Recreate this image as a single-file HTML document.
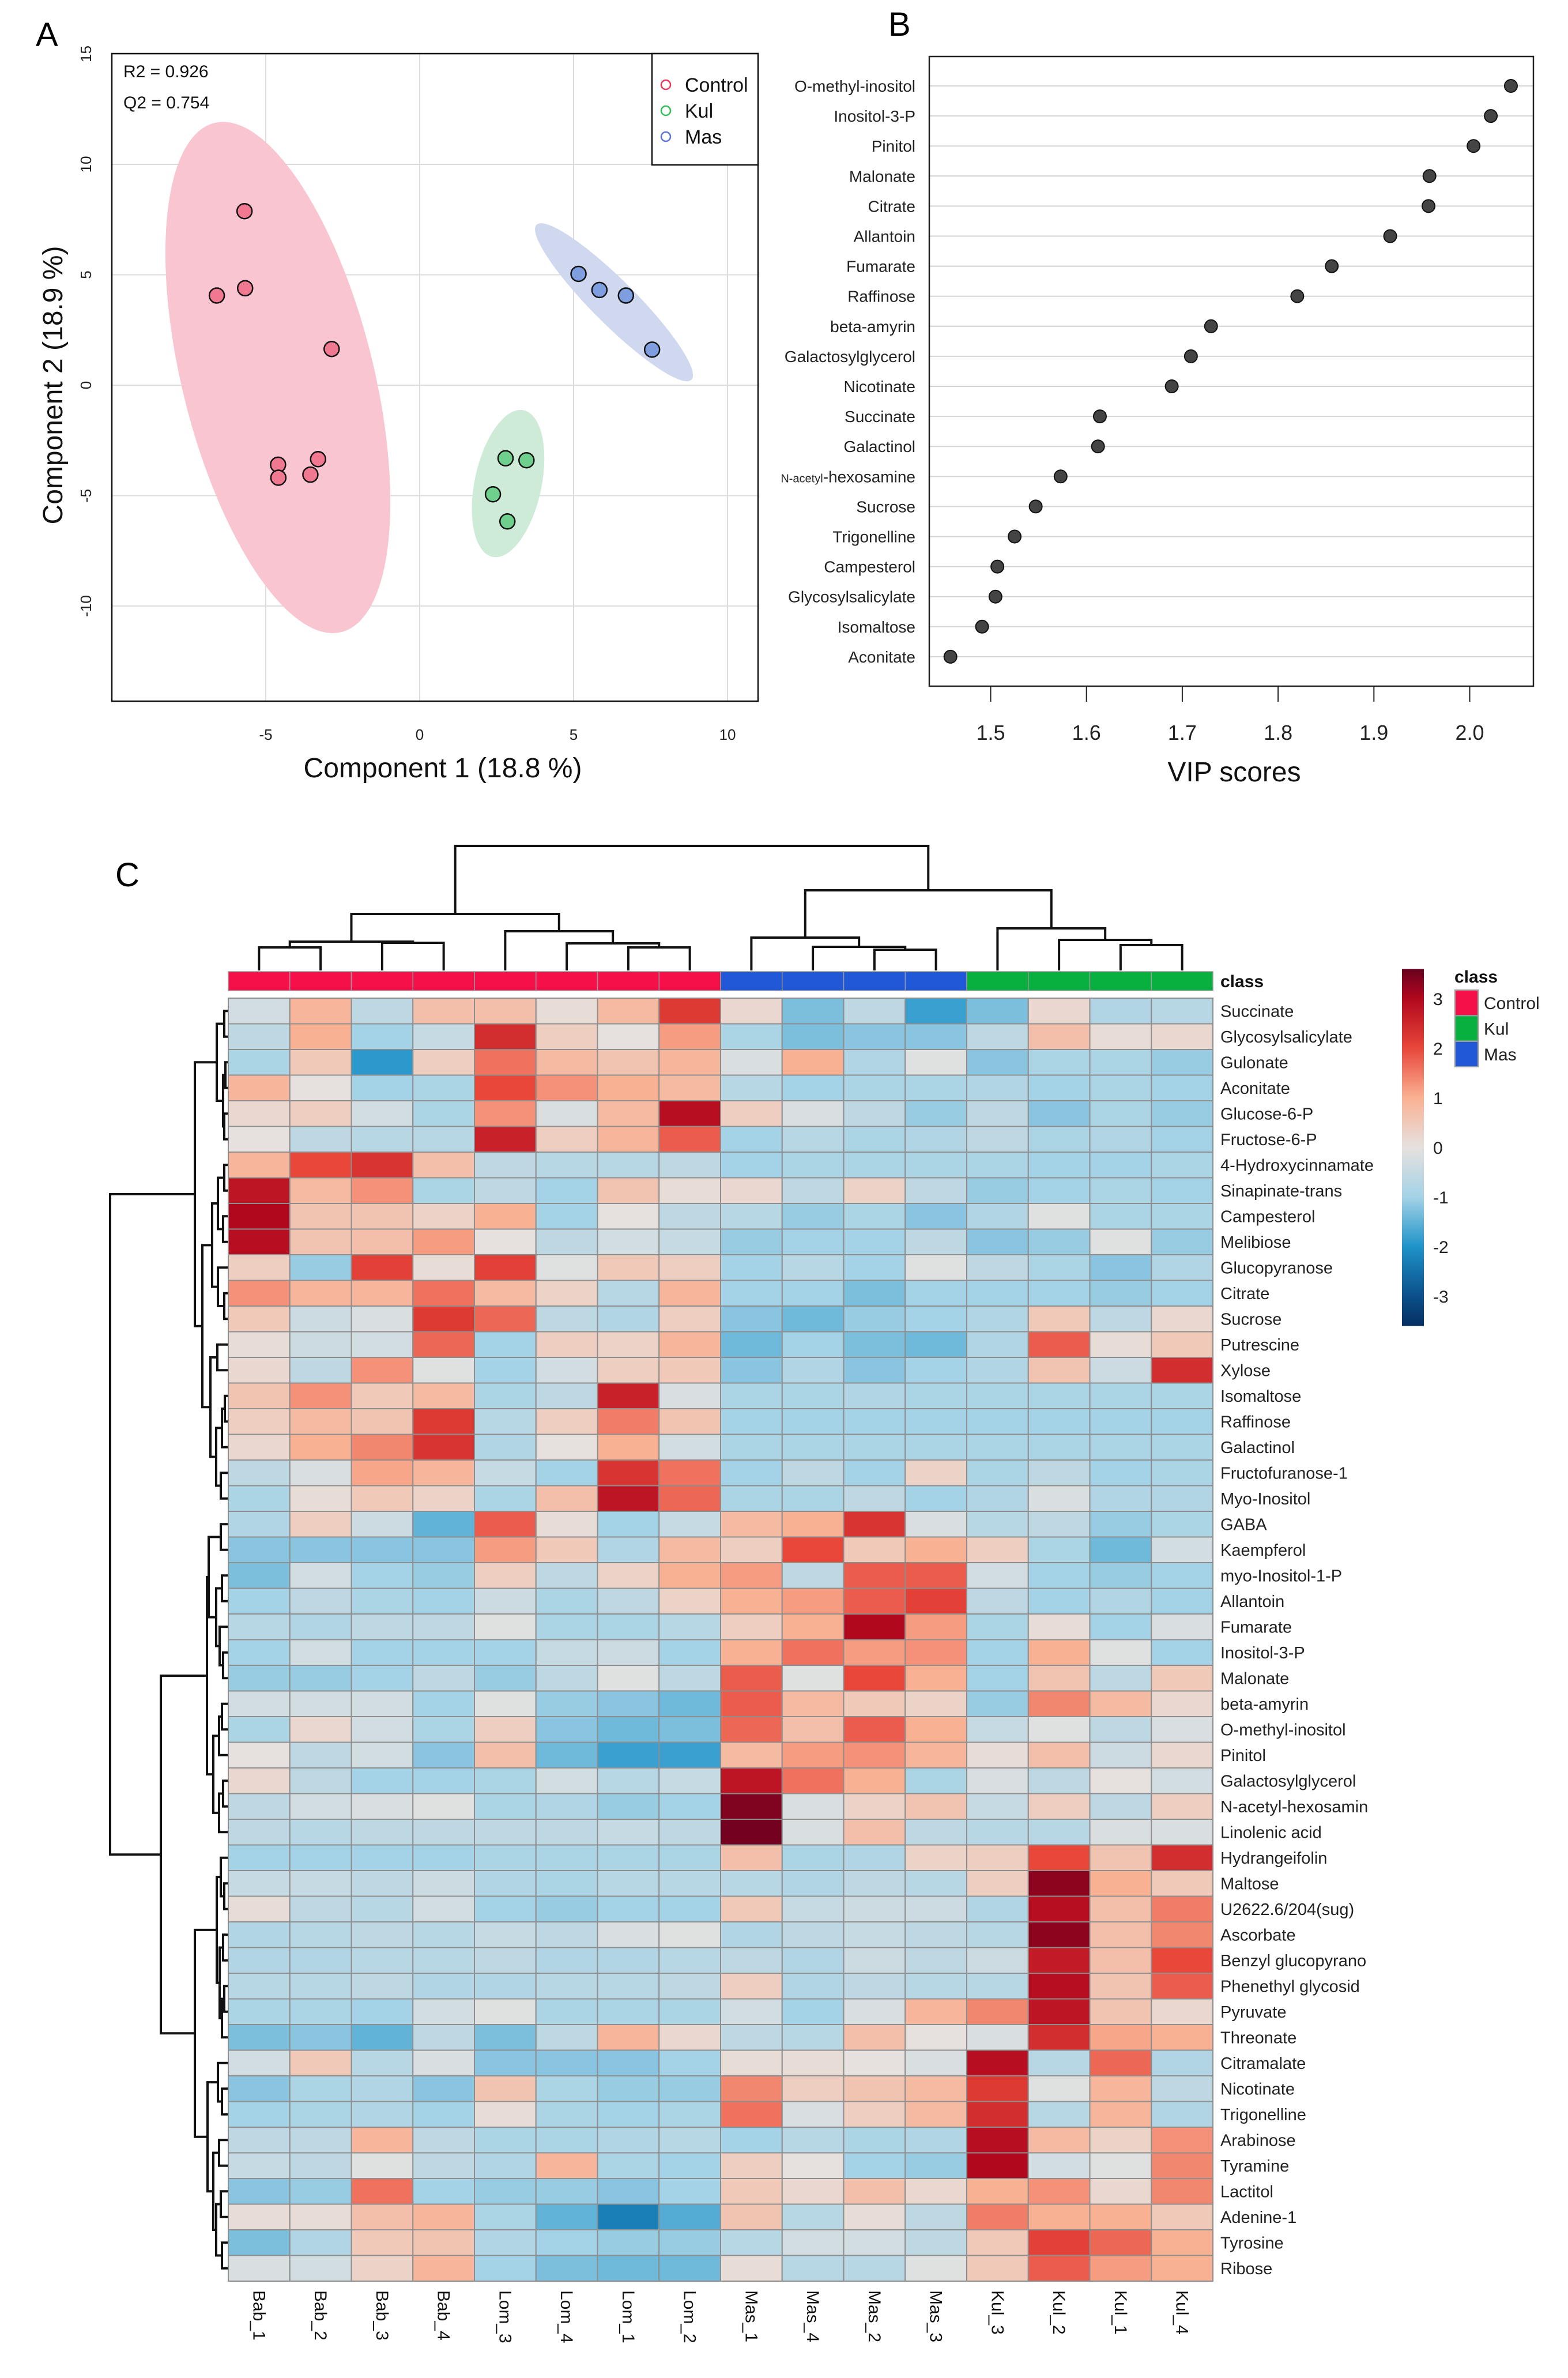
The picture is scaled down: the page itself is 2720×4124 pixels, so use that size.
<!DOCTYPE html>
<html><head><meta charset="utf-8">
<style>
html,body{margin:0;padding:0;background:#fff;}
svg{display:block;font-family:"Liberation Sans",sans-serif;}
</style></head>
<body>
<svg id="fig" xmlns="http://www.w3.org/2000/svg" width="2720" height="4124" viewBox="0 0 2720 4124">
<rect x="0" y="0" width="2720" height="4124" fill="#fff"/>
<g id="panelA"></g>
<g id="panelB"></g>
<g id="panelC"></g>
</svg>
<script>
// ---------- Panel A data ----------
const controlX = [-5.69,-6.59,-5.67,-2.86,-4.60,-4.59,-3.55,-3.30];
const controlY = [7.88,4.06,4.39,1.64,-3.60,-4.19,-4.05,-3.35];
const kulX = [2.79,3.47,2.38,2.85];
const kulY = [-3.31,-3.40,-4.94,-6.17];
const masX = [5.16,5.84,6.70,7.55];
const masY = [5.04,4.31,4.06,1.61];
const pcaXTicks = [-5,0,5,10];
const pcaYTicks = [15,10,5,0,-5,-10];
const groupNames = ["Control","Kul","Mas"];
// ---------- Panel B data ----------
const vipNames = ["O-methyl-inositol","Inositol-3-P","Pinitol","Malonate","Citrate","Allantoin","Fumarate","Raffinose","beta-amyrin","Galactosylglycerol","Nicotinate","Succinate","Galactinol","N-acetyl-hexosamine","Sucrose","Trigonelline","Campesterol","Glycosylsalicylate","Isomaltose","Aconitate"];
const vipScores = [2.043,2.022,2.004,1.958,1.957,1.917,1.856,1.820,1.730,1.709,1.689,1.614,1.612,1.573,1.547,1.525,1.507,1.505,1.491,1.458];
const vipTicks = [1.5,1.6,1.7,1.8,1.9,2.0];
// ---------- Panel C data ----------
const heatCols = ["Bab_1","Bab_2","Bab_3","Bab_4","Lom_3","Lom_4","Lom_1","Lom_2","Mas_1","Mas_4","Mas_2","Mas_3","Kul_3","Kul_2","Kul_1","Kul_4"];
const colClass = [0,0,0,0,0,0,0,0,2,2,2,2,1,1,1,1];
const heatRows = ["Succinate","Glycosylsalicylate","Gulonate","Aconitate","Glucose-6-P","Fructose-6-P","4-Hydroxycinnamate","Sinapinate-trans","Campesterol","Melibiose","Glucopyranose","Citrate","Sucrose","Putrescine","Xylose","Isomaltose","Raffinose","Galactinol","Fructofuranose-1","Myo-Inositol","GABA","Kaempferol","myo-Inositol-1-P","Allantoin","Fumarate","Inositol-3-P","Malonate","beta-amyrin","O-methyl-inositol","Pinitol","Galactosylglycerol","N-acetyl-hexosamin","Linolenic acid","Hydrangeifolin","Maltose","U2622.6/204(sug)","Ascorbate","Benzyl glucopyrano","Phenethyl glycosid","Pyruvate","Threonate","Citramalate","Nicotinate","Trigonelline","Arabinose","Tyramine","Lactitol","Adenine-1","Tyrosine","Ribose"];
const heatValues = [
[-0.3,0.9,-0.6,0.7,0.7,0.1,0.8,2.2,0.2,-1.3,-0.6,-1.8,-1.3,0.2,-0.8,-0.7],
[-0.6,1.0,-1.0,-0.5,2.4,0.4,0.0,1.2,-0.9,-1.3,-1.2,-1.2,-0.6,0.7,0.1,0.2],
[-0.9,0.5,-1.9,0.4,1.6,0.8,0.6,0.9,-0.2,1.0,-0.8,-0.1,-1.2,-0.9,-0.9,-1.1],
[0.9,0.0,-1.0,-0.9,2.0,1.3,1.0,0.8,-0.7,-1.0,-0.9,-0.9,-0.8,-1.0,-0.9,-1.0],
[0.2,0.4,-0.3,-0.9,1.3,-0.2,0.8,2.9,0.4,-0.2,-0.6,-1.1,-0.6,-1.2,-0.9,-1.1],
[0.0,-0.6,-0.7,-0.7,2.6,0.4,0.9,1.8,-1.0,-0.7,-0.9,-0.8,-0.6,-0.9,-0.8,-1.0],
[0.9,2.0,2.3,0.7,-0.6,-0.7,-0.7,-0.6,-1.0,-0.9,-0.9,-0.9,-0.9,-1.0,-1.0,-0.9],
[2.8,0.8,1.3,-0.9,-0.6,-1.0,0.6,0.1,0.2,-0.6,0.3,-0.6,-1.1,-1.0,-0.9,-1.0],
[3.0,0.6,0.6,0.3,1.0,-1.0,0.0,-0.6,-0.7,-1.1,-0.9,-1.2,-0.8,-0.1,-0.9,-0.9],
[2.9,0.6,0.7,1.2,0.0,-0.6,-0.3,-0.5,-1.1,-1.0,-1.0,-0.6,-1.2,-1.1,-0.1,-1.1],
[0.4,-1.1,2.1,0.1,2.1,-0.1,0.5,0.4,-1.0,-0.7,-1.0,-0.1,-0.6,-0.9,-1.2,-0.8],
[1.3,0.9,0.9,1.6,0.8,0.3,-0.7,0.9,-1.0,-1.0,-1.3,-1.0,-1.0,-1.0,-1.1,-1.0],
[0.5,-0.4,-0.2,2.2,1.7,-0.6,-0.8,0.4,-1.2,-1.4,-1.1,-1.0,-0.8,0.5,-0.6,0.2],
[0.1,-0.4,-0.3,1.7,-1.0,0.4,0.3,0.9,-1.4,-1.0,-1.3,-1.4,-0.8,1.8,0.1,0.5],
[0.2,-0.6,1.3,-0.1,-1.0,-0.3,0.4,0.5,-1.2,-0.8,-1.2,-1.0,-0.8,0.6,-0.4,2.4],
[0.6,1.3,0.5,0.8,-0.9,-0.6,2.6,-0.2,-0.9,-0.9,-0.8,-0.9,-0.9,-0.9,-0.9,-0.9],
[0.4,0.8,0.6,2.2,-0.7,0.4,1.5,0.6,-1.0,-1.0,-1.0,-1.0,-1.0,-1.0,-1.0,-1.0],
[0.2,1.0,1.4,2.3,-0.8,0.0,1.0,-0.3,-0.9,-0.9,-0.9,-0.9,-0.9,-0.9,-0.9,-0.9],
[-0.6,-0.2,1.1,0.9,-0.5,-1.0,2.3,1.6,-1.0,-0.6,-1.0,0.3,-0.9,-0.6,-1.0,-0.9],
[-0.9,0.1,0.5,0.3,-0.9,0.7,2.8,1.7,-0.9,-0.9,-0.6,-1.0,-0.8,-0.2,-0.8,-0.8],
[-0.8,0.4,-0.4,-1.5,1.8,0.1,-1.0,-0.5,0.8,1.0,2.3,-0.2,-0.7,-0.6,-1.1,-0.9],
[-1.2,-1.2,-1.2,-1.2,1.2,0.5,-0.8,0.8,0.4,2.0,0.5,1.0,0.4,-0.9,-1.4,-0.3],
[-1.3,-0.3,-1.0,-1.1,0.4,-0.6,0.3,1.0,1.2,-0.6,1.8,1.8,-0.3,-1.0,-1.1,-1.0],
[-1.0,-0.6,-0.9,-1.0,-0.4,-0.9,-0.6,0.3,1.0,1.2,1.8,2.1,-0.6,-1.0,-0.8,-1.0],
[-0.7,-0.8,-0.6,-0.6,-0.1,-0.9,-0.9,-0.7,0.4,1.0,3.0,1.2,-0.9,0.1,-1.0,-0.2],
[-1.0,-0.3,-1.0,-1.0,-1.0,-0.5,-0.4,-1.0,1.0,1.6,1.2,1.3,-1.0,1.0,-0.1,-1.0],
[-1.1,-1.1,-1.0,-0.6,-1.1,-0.6,-0.1,-0.6,1.8,-0.1,2.0,1.0,-1.0,0.6,-0.6,0.5],
[-0.3,-0.3,-0.3,-1.0,-0.1,-1.1,-1.2,-1.4,1.8,0.8,0.5,0.3,-1.1,1.4,0.8,0.2],
[-0.9,0.2,-0.3,-0.9,0.4,-1.2,-1.4,-1.3,1.7,0.7,1.8,1.0,-0.5,-0.1,-0.6,-0.2],
[0.0,-0.6,-0.3,-1.2,0.7,-1.4,-1.8,-1.8,0.8,1.2,1.3,0.9,0.1,0.7,-0.4,0.2],
[0.2,-0.6,-1.0,-1.0,-0.9,-0.3,-0.7,-0.5,2.8,1.6,1.0,-0.9,-0.2,-0.6,0.0,-0.3],
[-0.6,-0.3,-0.2,-0.1,-0.9,-0.8,-1.1,-1.0,3.4,-0.2,0.3,0.6,-0.5,0.4,-0.6,0.4],
[-0.6,-0.7,-0.6,-0.6,-0.6,-0.6,-0.5,-0.6,3.5,-0.2,0.7,-0.6,-0.7,-0.7,-0.2,-0.2],
[-1.0,-1.0,-1.0,-1.0,-0.9,-0.9,-0.9,-0.9,0.7,-0.9,-0.8,0.3,0.4,2.0,0.6,2.4],
[-0.5,-0.5,-0.6,-0.4,-0.8,-0.9,-0.7,-0.7,-0.7,-0.8,-0.6,-0.7,0.4,3.3,1.0,0.5],
[0.1,-0.6,-0.7,-0.3,-1.0,-1.1,-1.0,-1.0,0.5,-0.5,-0.4,-0.4,-0.8,2.9,0.7,1.5],
[-0.8,-0.7,-0.6,-0.7,-0.5,-0.6,-0.2,-0.1,-0.8,-0.6,-0.5,-0.6,-0.7,3.3,0.7,1.4],
[-0.8,-0.8,-0.7,-0.7,-0.6,-0.8,-0.8,-0.7,-0.6,-0.8,-0.4,-0.6,-0.4,2.7,0.7,2.0],
[-0.7,-0.7,-0.6,-0.8,-0.8,-0.7,-0.7,-0.6,0.4,-0.8,-0.6,-0.7,-0.7,2.9,0.6,1.8],
[-0.9,-0.9,-1.0,-0.3,-0.1,-0.9,-0.9,-0.9,-0.3,-1.0,-0.2,0.9,1.4,2.8,0.6,0.2],
[-1.3,-1.2,-1.5,-0.6,-1.3,-0.6,0.9,0.2,-0.6,-0.7,0.7,0.0,-0.2,2.4,1.1,1.0],
[-0.3,0.5,-0.7,-0.2,-1.2,-1.2,-1.2,-1.0,0.1,0.1,0.0,-0.2,2.9,-0.7,1.7,-0.8],
[-1.2,-0.9,-0.8,-1.2,0.6,-0.9,-1.1,-1.1,1.4,0.4,0.6,0.8,2.2,-0.1,0.9,-0.6],
[-1.0,-0.9,-0.8,-1.0,0.1,-0.9,-1.0,-0.9,1.6,-0.2,0.4,0.8,2.4,-0.7,0.9,-0.8],
[-0.6,-0.6,0.9,-0.6,-0.9,-0.9,-0.8,-0.7,-1.0,-0.7,-0.9,-0.8,2.9,0.8,0.3,1.3],
[-0.5,-0.6,-0.1,-0.6,-0.8,0.9,-0.9,-1.0,0.4,0.0,-1.0,-1.1,3.0,-0.3,-0.1,1.4],
[-1.2,-1.1,1.6,-1.0,-1.1,-1.1,-1.2,-1.0,0.5,0.2,0.7,0.2,1.0,1.3,0.2,1.4],
[0.1,0.1,0.7,0.9,-0.9,-1.5,-2.3,-1.6,0.6,-0.7,0.1,-0.6,1.5,1.0,1.0,0.5],
[-1.3,-0.8,0.5,0.6,-0.8,-1.0,-1.1,-1.1,-0.7,-0.3,-0.3,-0.6,0.5,2.1,1.7,1.0],
[-0.2,-0.3,0.3,0.9,-1.0,-1.3,-1.4,-1.4,0.1,-0.7,-0.7,-0.1,0.5,1.8,1.2,1.0]
];
const colorTicks = [3,2,1,0,-1,-2,-3];
// dendrogram merge trees: [height, left, right]; leaves are indices
const colTree = [216,[98,[50,[40,0,1],[48,2,3]],[68,4,[47,5,[40,6,7]]]],[139,[57,8,[41,9,[36,10,11]]],[73,12,[53,13,[44,14,15]]]]];
const rowTree = [204,
  [57,[19,[6,0,1],[8,[4,2,3],[6,4,5]]],
      [44,[27,[17,[6,6,7],[8,8,9]],[17,10,[6,11,12]]],[30,[18,13,14],[20,[10,[5,15,16],17],[12,18,19]]]]],
  [116,[36,[33,[12,20,21],[20,[10,22,23],[14,24,[8,25,26]]]],[25,[15,[10,27,28],29],[15,[8,30,31],32]]],
       [57,[19,[12,33,[6,34,35]],[14,[8,36,37],[10,[6,38,39],40]]],[35,[17,41,[10,42,43]],[25,[15,44,45],[20,[12,46,47],[10,48,49]]]]]]];
</script>
<script>
const NS="http://www.w3.org/2000/svg";
function mk(parent,tag,attrs,text){const e=document.createElementNS(NS,tag);for(const k in attrs)e.setAttribute(k,attrs[k]);if(text!==undefined)e.textContent=text;parent.appendChild(e);return e;}

// ================= Panel A =================
const A=document.getElementById('panelA');
const xA=v=>728+53.4*v, yA=v=>668-38.3*v;
const boxA={l:194,r:1315,t:93,b:1216};
let t=mk(A,'text',{x:62,y:80,'font-size':58,fill:'#000'},'A');

pcaXTicks.forEach(v=>{let l=mk(A,'line',{x1:xA(v),x2:xA(v),y1:boxA.t,y2:boxA.b,stroke:'#dcdcdc','stroke-width':2});
 
 let tx=mk(A,'text',{x:xA(v),y:1283,'font-size':26,'text-anchor':'middle',fill:'#222'},String(v));
 });
pcaYTicks.forEach(v=>{let l=mk(A,'line',{x1:boxA.l,x2:boxA.r,y1:yA(v),y2:yA(v),stroke:'#dcdcdc','stroke-width':2});
 
 let tx=mk(A,'text',{x:0,y:0,'font-size':26,'text-anchor':'middle',fill:'#222',transform:`translate(158,${yA(v)}) rotate(-90)`},String(v));
 });
const groups=[{x:controlX,y:controlY,fill:'#f9c5d0',pt:'#f07890',rx:166,ry:455,rot:-14,name:'control'},
 {x:kulX,y:kulY,fill:'#cdebd6',pt:'#6fcf8c',rx:58,ry:130,rot:12,name:'kul'},
 {x:masX,y:masY,fill:'#d0d8ef',pt:'#7e9ee0',rx:38,ry:190,rot:-45,name:'mas'}];
groups.forEach(g=>{const mx=g.x.reduce((a,b)=>a+b,0)/g.x.length, my=g.y.reduce((a,b)=>a+b,0)/g.y.length;
 let e=mk(A,'ellipse',{cx:0,cy:0,rx:g.rx,ry:g.ry,fill:g.fill,transform:`translate(${xA(mx)},${yA(my)}) rotate(${g.rot})`});
 });
groups.forEach(g=>{g.x.forEach((v,i)=>{let c=mk(A,'circle',{cx:xA(v),cy:yA(g.y[i]),r:13,fill:g.pt,stroke:'#111','stroke-width':2.5});
 });});
let bA=mk(A,'rect',{x:boxA.l,y:boxA.t,width:boxA.r-boxA.l,height:boxA.b-boxA.t,fill:'none',stroke:'#111','stroke-width':2.5});

t=mk(A,'text',{x:214,y:134,'font-size':30,fill:'#111'},'R2 = 0.926');
t=mk(A,'text',{x:214,y:188,'font-size':30,fill:'#111'},'Q2 = 0.754');
let lg=mk(A,'g',{});
let lr=mk(lg,'rect',{x:1131,y:93,width:184,height:193,fill:'#fff',stroke:'#111','stroke-width':2.5});

const legCol=['#e8375a','#30bf5a','#5b74d6'];
groupNames.forEach((n,i)=>{let c=mk(lg,'circle',{cx:1155,cy:147+i*45,r:8,fill:'none',stroke:legCol[i],'stroke-width':2.5});
 
 let tx=mk(lg,'text',{x:1188,y:159+i*45,'font-size':34,fill:'#111'},n);
 });
t=mk(A,'text',{x:768,y:1348,'font-size':48,'text-anchor':'middle',fill:'#111'},'Component 1 (18.8 %)');

t=mk(A,'text',{x:0,y:0,'font-size':48,'text-anchor':'middle',fill:'#111',transform:'translate(108,668) rotate(-90)'},'Component 2 (18.9 %)');


// ================= Panel B =================
const B=document.getElementById('panelB');
const xB=v=>1718.5+(v-1.5)*1662, yB=i=>149+i*52.1;
const boxB={l:1612,r:2660,t:98,b:1190};
t=mk(B,'text',{x:1541,y:62,'font-size':58,fill:'#000'},'B');
vipNames.forEach((n,i)=>{let l=mk(B,'line',{x1:boxB.l,x2:boxB.r,y1:yB(i),y2:yB(i),stroke:'#d4d4d4','stroke-width':2});
 
 let tx;
 if(n==='N-acetyl-hexosamine'){tx=mk(B,'text',{x:1588,y:yB(i)+10,'font-size':28,'text-anchor':'end',fill:'#222'});
  mk(tx,'tspan',{'font-size':20},'N-acetyl');mk(tx,'tspan',{},'-hexosamine');}
 else tx=mk(B,'text',{x:1588,y:yB(i)+10,'font-size':28,'text-anchor':'end',fill:'#222'},n);
 });
vipScores.forEach((v,i)=>{let c=mk(B,'circle',{cx:xB(v),cy:yB(i),r:11,fill:'#444',stroke:'#111','stroke-width':2});
 });
let bB=mk(B,'rect',{x:boxB.l,y:boxB.t,width:boxB.r-boxB.l,height:boxB.b-boxB.t,fill:'none',stroke:'#222','stroke-width':2.5});

vipTicks.forEach(v=>{let l=mk(B,'line',{x1:xB(v),x2:xB(v),y1:boxB.b,y2:boxB.b+27,stroke:'#222','stroke-width':2});
 
 let tx=mk(B,'text',{x:xB(v),y:1283,'font-size':36,'text-anchor':'middle',fill:'#222'},v.toFixed(1));
 });
t=mk(B,'text',{x:2141,y:1355,'font-size':48,'text-anchor':'middle',fill:'#111'},'VIP scores');


// ================= Panel C =================
const C=document.getElementById('panelC');
const hx0=396, cw=106.75, hy0=1731, rh=44.5;
const cx=j=>hx0+j*cw, cy=i=>hy0+i*rh;
const stops=[[-3.6,[5,48,97]],[-3,[11,79,138]],[-2,[31,147,201]],[-1,[164,210,230]],[0,[230,225,223]],[1,[249,177,147]],[2,[232,71,58]],[3,[178,8,30]],[3.6,[103,0,31]]];
function col(v){v=Math.max(-3.6,Math.min(3.6,v));for(let k=0;k<stops.length-1;k++){const a=stops[k],b=stops[k+1];if(v<=b[0]){const f=(v-a[0])/(b[0]-a[0]);const c=a[1].map((x,q)=>Math.round(x+(b[1][q]-x)*f));return `rgb(${c[0]},${c[1]},${c[2]})`;}}return 'rgb(103,0,31)';}
t=mk(C,'text',{x:200,y:1537,'font-size':58,fill:'#000'},'C');
const classColors=['#f5104a','#08b040','#2158d8'];
heatCols.forEach((n,j)=>{let r=mk(C,'rect',{x:cx(j),y:1685,width:cw,height:33,fill:classColors[colClass[j]],stroke:'#999','stroke-width':1.5});
 
 let tx=mk(C,'text',{x:0,y:0,'font-size':30,fill:'#111',transform:`translate(${cx(j)+cw/2-10},3972) rotate(90)`},n);
 });
t=mk(C,'text',{x:2117,y:1712,'font-size':30,'font-weight':'bold',fill:'#111'},'class');
heatValues.forEach((row,i)=>{row.forEach((v,j)=>{let r=mk(C,'rect',{x:cx(j),y:cy(i),width:cw,height:rh,fill:col(v),stroke:'#8e8e8e','stroke-width':2});
 });
 let tx=mk(C,'text',{x:2117,y:cy(i)+rh/2+10,'font-size':29,fill:'#222'},heatRows[i]);
 });
// dendrograms
function drawTree(node,pos,base,scale,orient,g){
 if(typeof node==='number')return {p:pos(node),h:0};
 const L=drawTree(node[1],pos,base,scale,orient,g),R=drawTree(node[2],pos,base,scale,orient,g);
 const h=node[0];let d;
 if(orient==='col'){const y=base-h*scale,yl=base-L.h*scale,yr=base-R.h*scale;d=`M${L.p},${yl}V${y}H${R.p}V${yr}`;}
 else{const x=base-h*scale,xl=base-L.h*scale,xr=base-R.h*scale;d=`M${xl},${L.p}H${x}V${R.p}H${xr}`;}
 let p=mk(g,'path',{d:d,fill:'none',stroke:'#111','stroke-width':4});
 
 
 return {p:(L.p+R.p)/2,h:h};}
let gcd=mk(C,'g',{});
drawTree(colTree,j=>cx(j)+cw/2,1683,1,'col',gcd);
let grd=mk(C,'g',{});
drawTree(rowTree,i=>cy(i)+rh/2,395,1,'row',grd);
// color legend
const defs=mk(document.getElementById('fig'),'defs',{});
const gr=mk(defs,'linearGradient',{id:'cbar',x1:0,y1:0,x2:0,y2:1});
for(let k=0;k<=36;k++){const v=3.6-k*0.2;mk(gr,'stop',{offset:(k/36),'stop-color':col(v)});}
const cbY=v=>1990-86*v;
let cb=mk(C,'rect',{x:2432,y:cbY(3.6),width:38,height:cbY(-3.6)-cbY(3.6),fill:'url(#cbar)'});

colorTicks.forEach(v=>{let tx=mk(C,'text',{x:2486,y:cbY(v)+11,'font-size':30,fill:'#222'},String(v));
 });
t=mk(C,'text',{x:2523,y:1704,'font-size':30,'font-weight':'bold',fill:'#111'},'class');
const legOrder=[0,1,2];
legOrder.forEach((k,i)=>{let r=mk(C,'rect',{x:2524,y:1717+i*44.5,width:40,height:44,fill:classColors[k],stroke:'#999','stroke-width':2});
 
 let tx=mk(C,'text',{x:2574,y:1750+i*44.5,'font-size':30,fill:'#222'},groupNames[k]);
 });
</script>
</body></html>
